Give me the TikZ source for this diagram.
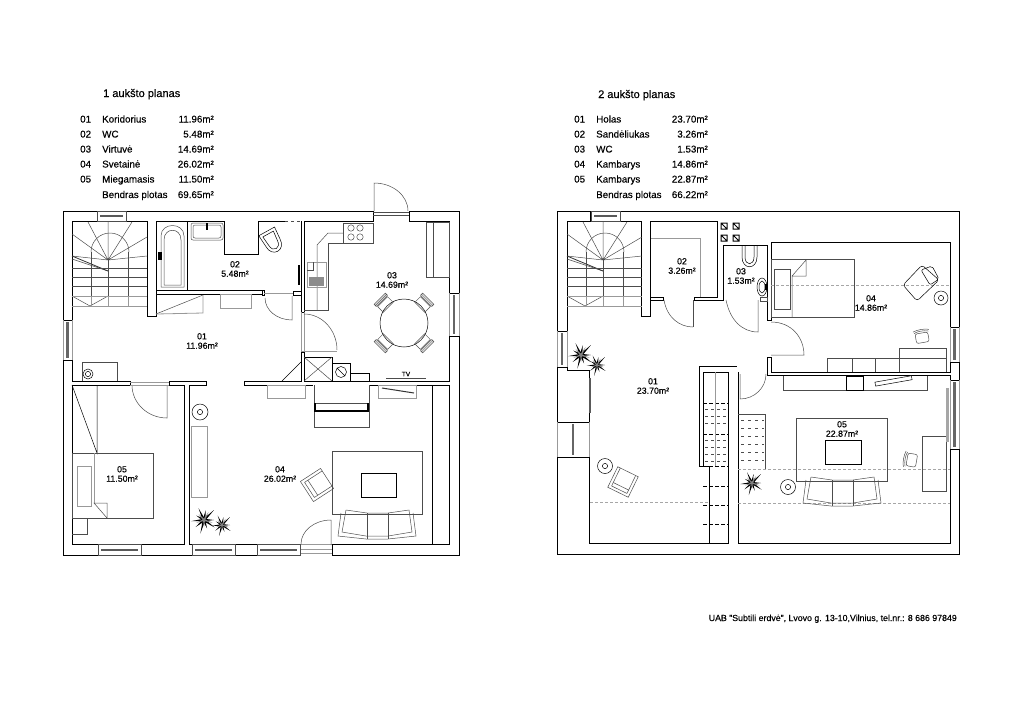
\documentclass[tikz,border=0pt]{standalone}
\usepackage{fontspec}
\setmainfont[FakeBold=0.3]{Liberation Sans}
\tikzset{
	wall/.style={line width=1pt, black, line join=miter},
	thinline/.style={line width=.5pt, black!70},
	grayline/.style={line width=.8pt, black!40},
	ceiling/.style={line width=.9pt, black!35, dash pattern=on 2.5pt off 2.5pt},
	stepdash/.style={line width=1pt, black, dash pattern=on 4pt off 2pt},
	roomlabel/.style={font=\fontsize{8.8}{9.4}\selectfont, align=center, inner sep=0pt},
	listtext/.style={font=\fontsize{9.8}{10}\selectfont, inner sep=0pt},
	pics/lamp/.style={code={
		\draw[thinline,black] (0,0) circle (#1);
		\draw[thinline,black] (0,0) circle (2.6);
	}},
	pics/tablechair/.style={code={
		\draw[thinline] (-7,-2) rectangle (7,6);
		\draw[thinline] (-8,-3) -- (8,-3) (-8,-4.5) -- (8,-4.5) (-8,-6) -- (8,-6) (-8,-6) -- (-8,-3) (8,-6) -- (8,-3);
	}},
	pics/armchair/.style={code={
		\draw[thinline] (-12,-12) rectangle (12,12);
		\draw[thinline] (-9,-9) -- (-9,12) (9,-9) -- (9,12) (-9,-9) -- (9,-9);
		\draw[thinline] (-9,-5) -- (9,-5);
	}},
	pics/deskchair/.style={code={
		\draw[thinline,rounded corners=2pt] (-8,-5) rectangle (8,7);
		\draw[thinline] (-10,-8) .. controls (-4,-10) and (4,-10) .. (10,-8);
		\draw[thinline] (-9,-6) .. controls (-4,-8) and (4,-8) .. (9,-6);
	}},
	pics/sofa/.style={code={
		\draw[thinline] (-36,-12) -- (-39,11) -- (-11,14) -- (11,14) -- (39,11) -- (36,-12);
		\draw[thinline] (-31,-15) -- (-35,7) -- (-11,11) -- (11,11) -- (35,7) -- (32,-15);
		\draw[thinline] (-31,-15) -- (-10,-12) -- (11,-12) -- (32,-15);
		\draw[thinline] (-10,-12) -- (-10,14) (11,-12) -- (11,14);
	}},
	pics/plant/.style={code={
		\foreach \a/\r in {0/10,35/13,70/9,105/14,140/11,175/13,210/9,245/13,280/10,315/14}{
			\fill[black] (\a+80:1.3) -- (\a:\r) -- (\a-80:1.3) -- cycle;
		}
		\foreach \a/\r in {18/9,90/7,160/8,228/8,300/9}{
			\fill[black!50] (\a+80:1) -- (\a:\r) -- (\a-80:1) -- cycle;
		}
	}},
	pics/stairs/.style={code={
		% origin is the upper left inner corner of the stair well
		\draw[thinline] (36,39) -- (16,1) (36,39) -- (36,0) (36,39) -- (60,1) (36,39) -- (75,16)
			(36,39) -- (0,13) (36,39) -- (0,35) (36,39) -- (75,35);
		\draw[thinline] (19,31) arc (180:360:19);
		\draw[thinline] (0,38) -- (36,50);
		\draw[line width=.8pt,black!80] (0,35) -- (36,50);
		\draw[thinline] (0,47) -- (75,47) (0,56) -- (75,56) (0,65) -- (75,65);
		\draw[thinline] (36,39) -- (36,75);
		\draw[thinline] (19,31) -- (19,75) (56,31) -- (56,75);
		\draw[thinline] (0,75) -- (18,85) -- (36,75);
		\draw[grayline] (0,75) -- (75,75) (0,85) -- (75,85) (36,75) -- (36,85) (19,75) -- (19,85) (56,75) -- (56,85);
	}},
}
\newcommand{\windowh}[4]{
	\draw[thinline] (#1,#3) rectangle (#2,#4);
	\fill[black!65] ({#1+3},{(#3+#4)/2-1}) rectangle ({#2-3},{(#3+#4)/2+1});
}
\newcommand{\windowv}[4]{
	\draw[grayline] (#1,#3) -- (#1,#4) (#2,#3) -- (#2,#4);
	\fill[black!60] ({(#1+#2)/2-1.2},{#3+2}) rectangle ({(#1+#2)/2+1.2},{#4-2});
}
\begin{document}
\begin{tikzpicture}[x=1pt,y=-1pt]
	\useasboundingbox (0,0) rectangle (1024,724);

	% ------ titles and lists
	\node[listtext,anchor=base west,font=\fontsize{11}{12}\selectfont] (titleone) at (103,97) {1 aukšto planas};
	\foreach \num/\room/\area/\rowy in {01/Koridorius/11.96/122.5, 02/WC/5.48/137.5, 03/Virtuvė/14.69/152.5, 04/Svetainė/26.02/167.5, 05/Miegamasis/11.50/182.5}{
		\node[listtext,anchor=base west] (numa\num) at (80,\rowy) {\num};
		\node[listtext,anchor=base west] (rooma\num) at (102,\rowy) {\room};
		\node[listtext,anchor=base east] (areaa\num) at (214,\rowy) {\area m²};
	}
	\node[listtext,anchor=base west] (suma) at (102,198) {Bendras plotas};
	\node[listtext,anchor=base east] (sumarea) at (214,198) {69.65m²};

	\node[listtext,anchor=base west,font=\fontsize{11}{12}\selectfont] (titletwo) at (598,98) {2 aukšto planas};
	\foreach \num/\room/\area/\rowy in {01/Holas/23.70/122.5, 02/Sandėliukas/3.26/137.5, 03/WC/1.53/152.5, 04/Kambarys/14.86/167.5, 05/Kambarys/22.87/182.5}{
		\node[listtext,anchor=base west] (numb\num) at (574,\rowy) {\num};
		\node[listtext,anchor=base west] (roomb\num) at (596,\rowy) {\room};
		\node[listtext,anchor=base east] (areab\num) at (708,\rowy) {\area m²};
	}
	\node[listtext,anchor=base west] (sumb) at (596,198) {Bendras plotas};
	\node[listtext,anchor=base east] (sumbrea) at (708,198) {66.22m²};

	\node[listtext,anchor=base east,font=\fontsize{8.8}{10}\selectfont] (footer) at (957,621) {UAB "Subtili erdvė", Lvovo g. 13-10,Vilnius, tel.nr.: 8 686 97849};

	% ------ first floor, walls
	\draw[wall] (97,211) -- (63,211) -- (63,320) -- (72,320) -- (72,221) -- (147,221) -- (147,316) -- (156,316) -- (156,221) -- (224,221) -- (224,254) -- (258,254) -- (258,221) -- (285,221);
	\draw[wall] (97,211) -- (97,221) (126,211) -- (126,221);
	\draw[thinline,dashed] (285,221) -- (301,221);
	\draw[wall] (126,211) -- (373,211) -- (373,221) -- (304,221) -- (304,312) -- (301,312) -- (301,221);
	\draw[wall] (409,221) -- (409,211) -- (459,211) -- (459,293) -- (449,293) -- (449,221) -- (409,221);
	\draw[wall] (63,360) -- (72,360) -- (72,381) -- (130,381) -- (130,385) -- (72,385) -- (72,544) -- (184,544) -- (184,385) -- (169,385) -- (169,381) -- (206,381) -- (206,385) -- (189,385) -- (189,544) -- (300,544);
	\draw[wall] (63,360) -- (63,555) -- (98,555) -- (98,544);
	\draw[wall] (141,544) -- (141,555) -- (192,555) -- (192,544);
	\draw[wall] (235,544) -- (235,555) -- (257,555) -- (257,544);
	\draw[wall] (369,385) -- (449,385) -- (449,544) -- (332,544) -- (332,555) -- (459,555) -- (459,336) -- (449,336) -- (449,381) -- (304,381) -- (304,352) -- (301,352) -- (301,381) -- (244,381) -- (244,385) -- (313,385);
	\draw[wall] (156,290) -- (262,290) (156,294) -- (262,294);
	\draw[wall] (262,290) rectangle (264,295) (293,291) rectangle (301,295);
	\draw[wall] (187,221) -- (187,290);
	\fill[black] (298,265) rectangle (300,285);
	\draw[grayline] (264,293) -- (293,293) (301,312) -- (301,352) (304,312) -- (304,352) (301,351) -- (337,351) (300,544) -- (332,544) (300,549) -- (332,549) (300,553) -- (332,553);

	% ------ first floor, doors and windows
	\draw[thinline] (373,212) -- (409,212) (373,215) -- (409,215);
	\draw[thinline] (374,211) -- (374,183) arc (270:360:34 and 28);
	\draw[thinline] (304,314) arc (270:360:33 and 36);
	\draw[thinline] (292,296) -- (292,320) arc (90:180:27 and 22);
	\draw[thinline] (167,385) -- (167,418) arc (90:180:35 and 33);
	\draw[thinline] (331,545) -- (331,520) arc (270:180:30 and 24);
	\draw[grayline] (130,382) -- (169,382) (130,385) -- (169,385);
	\windowh{97}{126}{211}{221}
	\windowv{63}{72}{320}{360}
	\windowv{449}{459}{293}{336}
	\windowh{98}{141}{544}{555}
	\windowh{192}{235}{544}{555}
	\windowh{257}{300}{544}{555}

	% ------ first floor, fittings
	\pic at (72,221) {stairs};
	\draw[thinline] (161,287) -- (161,236) .. controls (161,222) and (184,222) .. (184,236) -- (184,287) -- cycle;
	\draw[thinline] (164,285) -- (164,240) .. controls (164,227) and (181,227) .. (181,240) -- (181,285) -- cycle;
	\fill[black] (158,252) rectangle (162,260);
	\draw[thinline,rounded corners=2pt] (191,223) rectangle (223,240) (193,225) rectangle (221,238);
	\fill[black] (206,223) rectangle (208,230);
	\begin{scope}[shift={(272,241)},rotate=29]
		\draw[thinline,black] (-9,-11) -- (9,-11) -- (8,2) .. controls (8,15) and (-8,15) .. (-8,2) -- cycle;
		\draw[thinline,black] (-6,-8) -- (6,-8) -- (5,2) .. controls (5,11) and (-5,11) .. (-5,2) -- cycle;
	\end{scope}
	\draw[thinline] (156,314) -- (203,295);
	\draw[grayline] (203,295) -- (203,313) -- (156,314);
	\draw[grayline] (220,294) rectangle (251,308);
	% kitchen
	\draw[thinline] (304,310) -- (328,310) -- (328,243) -- (373,243);
	\draw[thinline] (317,310) -- (317,245) -- (328,233) -- (343,233);
	\draw[thinline] (343,223) rectangle (373,243);
	\foreach \bx/\by in {351/228,360/228,351/237,360/237}{
		\draw[thinline] (\bx,\by) circle (3.2);
	}
	\draw[grayline] (307,262) rectangle (326,287);
	\draw[thinline] (307,270) -- (313,270) -- (313,262);
	\fill[black!45] (309,277) rectangle (324,286);
	\draw[thinline] (426,222) rectangle (449,277) (433,222) -- (433,277);
	\draw[thinline,black] (404,323) circle (24);
	\pic[rotate=45] at (384,303) {tablechair};
	\pic[rotate=-45] at (424,303) {tablechair};
	\pic[rotate=135] at (384,343) {tablechair};
	\pic[rotate=225] at (424,343) {tablechair};
	% chimney
	\draw[wall] (304,357) rectangle (332,381);
	\draw[thinline] (304,357) -- (332,381) (332,357) -- (304,381);
	\draw[wall] (332,363) -- (350,363) -- (350,381);
	\draw[thinline,black] (341,372) circle (5.5) (337,368) -- (345,376);
	\draw[thinline,black] (350,373) -- (369,373) -- (369,381);
	\draw[thinline,black] (282,381) -- (301,362);
	\draw[thinline] (386,378) -- (426,378);
	\node[font=\fontsize{6.5}{7}\selectfont,inner sep=0pt] (tvone) at (406,374) {TV};
	% living room
	\draw[grayline] (267,385) rectangle (305,398);
	\draw[grayline] (378,385) rectangle (416,398);
	\draw[line width=1pt,black!80] (382,388) -- (414,393);
	\draw[thinline] (314,385) -- (314,427) -- (369,427) -- (369,385);
	\draw[thinline] (315,403) -- (368,403);
	\draw[line width=1.4pt,black] (315,403) -- (315,411) -- (368,411) -- (368,403);
	\draw[thinline,black] (432,385) -- (432,544);
	\draw[thinline] (332,451) rectangle (422,514);
	\draw[thinline,black] (361,473) rectangle (396,497);
	\pic at (377,525) {sofa};
	\pic[rotate=123] at (317,485) {armchair};
	\pic at (200,412) {lamp=8};
	\draw[grayline] (191,426) rectangle (207,497);
	\pic at (204,520) {plant};
	\pic[scale=.8] at (222,525) {plant};
	% bedroom
	\draw[thinline] (82,381) -- (82,362) -- (117,362) -- (117,381);
	\pic at (88,374) {lamp=5};
	\draw[thinline,black] (72,385) -- (97,453) -- (97,385);
	\draw[thinline] (72,453) rectangle (153,518);
	\draw[grayline] (94,453) -- (94,503);
	\draw[grayline] (77,466) rectangle (91,506);
	\draw[thinline] (94,503) -- (107,503) -- (107,518) -- cycle;
	\draw[thinline] (72,518) -- (87,518) -- (87,534) -- (72,534);

	% ------ second floor, walls
	\draw[wall] (590,211) -- (557,211) -- (557,331) -- (567,331) -- (567,221) -- (641,221) -- (641,316) -- (650,316) -- (650,221) -- (717,221) -- (717,297) -- (694,297) -- (694,300) -- (723,300) -- (723,245) -- (767,245) -- (767,320) -- (771,320) -- (771,242) -- (950,242) -- (950,327) -- (959,327) -- (959,211) -- (620,211) -- (620,221) -- (590,221) -- cycle;
	\draw[wall] (650,297) -- (663,297) -- (663,300) -- (650,300);
	\draw[wall] (557,422) -- (557,367) -- (567,367) -- (567,370) -- (589,370) -- (589,422) -- cycle;
	\draw[wall] (589,457) -- (589,543) -- (728,543) -- (728,372) -- (703,372) -- (703,466);
	\draw[wall] (699,466) -- (699,366) -- (737,366);
	\draw[wall] (699,466) -- (709,466) -- (709,543);
	\draw[wall] (738,372) -- (738,543) -- (950,543) -- (950,449) -- (959,449) -- (959,554) -- (557,554) -- (557,457) -- (589,457);
	\draw[wall] (767,357) -- (771,357) -- (771,372) -- (950,372) -- (950,362) -- (959,362) -- (959,380) -- (950,380) -- (950,375) -- (767,375) -- cycle;

	% ------ second floor, doors and windows
	\draw[thinline] (693,300) -- (693,327);
	\draw[thinline] (664,300) .. controls (667,318) and (680,327) .. (693,327);
	\draw[thinline] (726,300) .. controls (730,320) and (742,332) .. (758,332) -- (758,300);
	\draw[thinline] (771,322) .. controls (792,322) and (804,338) .. (804,355) -- (771,355);
	\draw[thinline] (740,374) -- (740,399) arc (90:0:26 and 25);
	\windowh{591}{620}{211}{221}
	\windowv{557}{567}{331}{367}
	\windowv{557}{589}{422}{457}
	\windowv{950}{959}{327}{362}
	\windowv{950}{959}{380}{449}

	% ------ second floor, fittings
	\pic at (567,221) {stairs};
	\draw[grayline] (651,238) -- (700,238) -- (700,297);
	\foreach \vx in {721,733}{
		\foreach \vy in {223,235}{
			\draw[wall] (\vx,\vy) rectangle ++(6,6) (\vx,\vy) -- ++(6,6);
		}
	}
	\draw[thinline,black] (742,245) -- (742,257) .. controls (742,270) and (757,270) .. (757,257) -- (757,245);
	\draw[thinline,black] (745,245) -- (745,257) .. controls (745,266) and (754,266) .. (754,257) -- (754,245);
	\draw[thinline,black] (762,287) ellipse (5 and 9);
	\draw[thinline,black] (762,287) ellipse (3 and 6);
	\draw[thinline] (760,297) rectangle (767,301);
	\fill[black] (765,284) rectangle (767,290);
	% room 04
	\draw[thinline] (771,259) rectangle (854,317);
	\draw[thinline] (774,269) rectangle (790,309);
	\draw[thinline] (792,317) -- (792,276) -- (806,260) -- (806,276) -- (792,276);
	\draw[ceiling] (771,285) -- (950,285);
	\draw[thinline,black,rounded corners=3pt] (903,285) -- (922,265) -- (939,280) -- (917,301) -- cycle;
	\draw[thinline,black,rounded corners=2pt] (921,270) -- (932,266) -- (939,279) -- (930,285) -- cycle;
	\pic at (941,298) {lamp=7};
	\pic[rotate=10,scale=.8] at (922,337) {deskchair};
	\draw[thinline] (827,372) -- (827,358) -- (899,358) (852,358) -- (852,372) (875,358) -- (875,372);
	\draw[thinline] (899,372) -- (899,348) -- (946,348) -- (946,372);
	\draw[thinline] (899,358) -- (946,358);
	% room 05
	\draw[thinline] (783,376) -- (783,390) -- (927,390) -- (927,376);
	\draw[line width=.9pt,black] (846,376) rectangle (863,390);
	\draw[thinline,black,fill=white,rotate around={10:(893,381)}] (875,379) rectangle (912,383);
	\draw[thinline] (796,418) rectangle (887,481);
	\draw[thinline,black] (825,440) rectangle (861,464);
	\draw[ceiling] (738,469) -- (950,469) (738,503) -- (950,503);
	\draw[ceiling] (590,502) -- (709,502);
	\pic at (842,492) {sofa};
	\pic at (788,487) {lamp=7.5};
	\draw[thinline] (922,436) rectangle (946,491);
	\fill[black!35] (946,388) rectangle (949,442);
	\pic[rotate=80,scale=.8] at (911,460) {deskchair};
	\draw[thinline] (738,414) -- (765,414) -- (765,469);
	\foreach \ty in {420,428,436,444,452,460}{
		\draw[thinline,dash pattern=on 3pt off 4pt] (741,\ty) -- (764,\ty);
	}
	\pic[scale=.9] at (752,483) {plant};
	% room 01
	\draw[line width=1.3pt,black!65] (590,378) -- (590,413);
	\pic at (581,355) {plant};
	\pic[scale=.8] at (597,365) {plant};
	\pic at (605,466) {lamp=7.5};
	\pic[rotate=154,scale=.95] at (623,482) {armchair};
	\foreach \sy in {403,434,466,486,505,524,543}{
		\draw[stepdash] (703,\sy) -- (728,\sy);
	}
	\draw[grayline] (715,372) -- (715,466);
	\foreach \ty in {409,416,423,440,447,454,461}{
		\draw[thinline,dash pattern=on 3pt off 3pt] (705,\ty) -- (726,\ty);
	}

	% ------ room labels
	\node[roomlabel] (lab101) at (202,341) {01\\11.96m²};
	\node[roomlabel] (lab102) at (235,269) {02\\5.48m²};
	\node[roomlabel] (lab103) at (392,280) {03\\14.69m²};
	\node[roomlabel] (lab104) at (280,474) {04\\26.02m²};
	\node[roomlabel] (lab105) at (122,474) {05\\11.50m²};
	\node[roomlabel] (lab201) at (653,386) {01\\23.70m²};
	\node[roomlabel] (lab202) at (682,266) {02\\3.26m²};
	\node[roomlabel] (lab203) at (741,276) {03\\1.53m²};
	\node[roomlabel] (lab204) at (871,303) {04\\14.86m²};
	\node[roomlabel] (lab205) at (842,429) {05\\22.87m²};
\end{tikzpicture}
\end{document}
